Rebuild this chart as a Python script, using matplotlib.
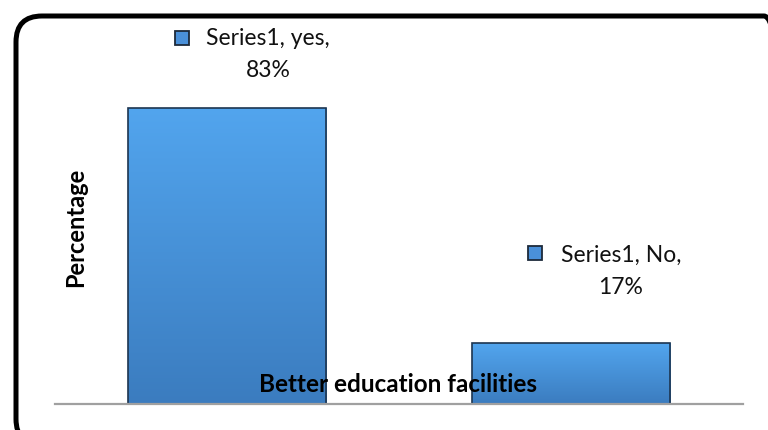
import numpy as np
import matplotlib.pyplot as plt
from matplotlib.patches import FancyBboxPatch
from matplotlib.transforms import IdentityTransform, offset_copy
from matplotlib.colors import LinearSegmentedColormap

categories = ['yes', 'No']
values = [83, 17]
series_name = 'Series1'

plt.rcParams['font.family'] = ['Lato', 'DejaVu Sans']

fig = plt.figure(figsize=(7.68, 4.30), dpi=100)
ax = fig.add_axes([55 / 768, 26 / 430, 688 / 768, 357 / 430])

x = np.arange(len(categories))
bars = ax.bar(x, values, width=0.576, color='none', edgecolor='#1d3550', linewidth=1.2, zorder=3)

# vertical gradient fill clipped to each bar
grad = LinearSegmentedColormap.from_list('g', ['#3b7cbf', '#52a5ee'])
ramp = np.linspace(0, 1, 256).reshape(-1, 1)
for b in bars:
    x0, y0 = b.get_x(), b.get_y()
    im = ax.imshow(ramp, cmap=grad, origin='lower', aspect='auto',
                   extent=[x0, x0 + b.get_width(), y0, y0 + b.get_height()], zorder=2)
    im.set_clip_path(b)

ax.set_xlim(-0.5, 1.5)
ax.set_ylim(0, 100)
for s in ['top', 'right', 'left']:
    ax.spines[s].set_visible(False)
ax.spines['bottom'].set_color('#a0a0a0')
ax.spines['bottom'].set_linewidth(1.6)
ax.spines['bottom'].set_zorder(4)
ax.set_xticks([])
ax.set_yticks([])

# data labels (text offset, key offset) in pixels from the bar top
label_offsets = [((41, 53), (-45, 70)), ((50, 72), (-36, 90))]
for i, (cat, v) in enumerate(zip(categories, values)):
    (tx, ty), (kx, ky) = label_offsets[i]
    ax.annotate(f'{series_name}, {cat},\n{v}%', xy=(i, v), xytext=(tx, ty),
                textcoords='offset pixels', ha='center', va='center',
                fontsize=16.5, linespacing=1.65, color='#111111', zorder=5)
    key_tr = offset_copy(ax.transData, fig=fig, x=kx, y=ky, units='dots')
    ax.plot([i], [v], marker='s', markersize=9.5, markerfacecolor='#4a90d9',
            markeredgecolor='#1d2a3a', markeredgewidth=1.3, transform=key_tr,
            clip_on=False, zorder=5)

fig.text(76 / 768, 1 - 227 / 430, 'Percentage', rotation=90, ha='center', va='center',
         fontsize=17, fontweight='bold')
fig.text(398 / 768, 1 - 385 / 430, 'Better education facilities', ha='center', va='center',
         fontsize=17.5, fontweight='bold', zorder=10)

# rounded chart border
frame = FancyBboxPatch((16, -15), 774, 429, boxstyle='round,pad=0,rounding_size=26',
                       transform=IdentityTransform(), facecolor='none', edgecolor='black',
                       linewidth=3.6)
fig.patches.append(frame)

fig.savefig('out.png', dpi=100)
